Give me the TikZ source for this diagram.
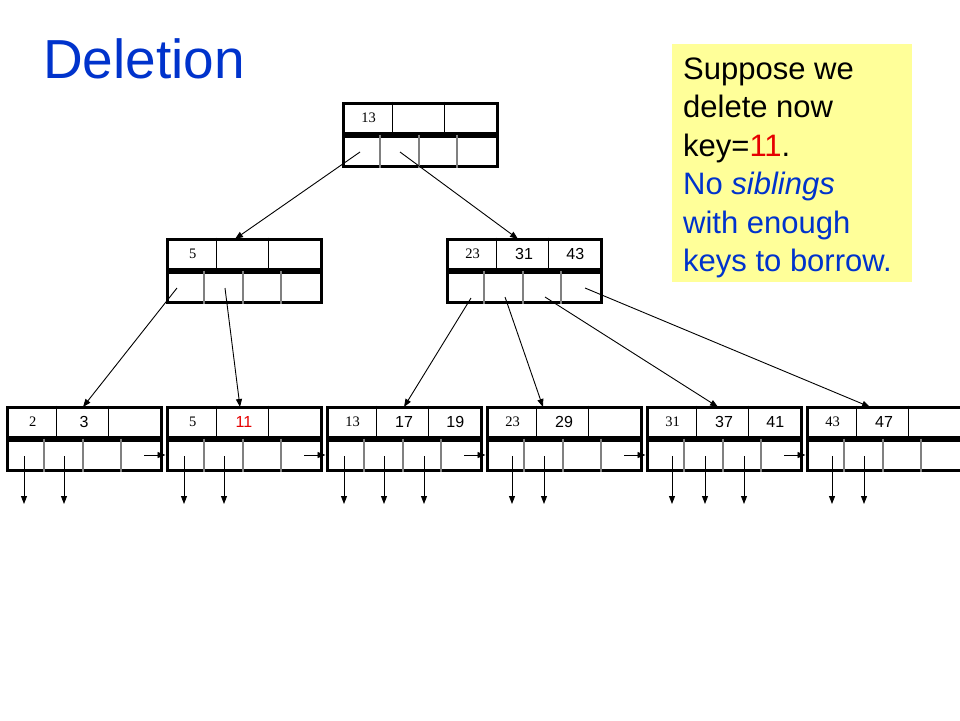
\documentclass[tikz,border=0pt]{standalone}
\usepackage{fontspec}
\setmainfont{Liberation Sans}
\newfontfamily\arialf{Liberation Sans}
\newfontfamily\tmsf{Liberation Serif}
\usetikzlibrary{arrows.meta}
\definecolor{titleblue}{RGB}{0,51,204}
\definecolor{noteyellow}{RGB}{255,255,153}
\definecolor{keyred}{RGB}{230,0,0}
\definecolor{divgray}{RGB}{128,128,128}
\tikzset{
  keyrow/.style={draw=black,line width=3pt,minimum width=154pt,minimum height=30pt,inner sep=0pt,fill=white},
  ptrrow/.style={draw=black,line width=3pt,minimum width=154pt,minimum height=30pt,inner sep=0pt,fill=white},
  kdiv/.style={draw=black,line width=0.9pt},
  pdiv/.style={draw=divgray,line width=2pt},
  kfirst/.style={font=\tmsf\fontsize{14.5}{14.5}\selectfont,inner sep=0pt},
  kother/.style={font=\arialf\fontsize{16}{16}\selectfont,inner sep=0pt},
  ptr/.style={draw=black,line width=0.9pt,-{Triangle[length=8pt,width=6pt]}},
  notetext/.style={font=\arialf\fontsize{31}{31}\selectfont,anchor=base west,inner sep=0pt}
}
% #1 name, #2 left x, #3 top y, #4 key1, #5 key2, #6 key3, #7 colour of key2
\newcommand\btnode[7]{%
  \node[keyrow] (#1) at (#2+77,#3+15) {};
  \node[ptrrow] (#1p) at (#2+77,#3+48) {};
  \draw[kdiv] ([xshift=51.33pt]#1.north west) -- ([xshift=51.33pt]#1.south west);
  \draw[kdiv] ([xshift=102.67pt]#1.north west) -- ([xshift=102.67pt]#1.south west);
  \draw[pdiv] ([xshift=38.5pt]#1p.north west) -- ([xshift=38.5pt]#1p.south west);
  \draw[pdiv] ([xshift=77pt]#1p.north west) -- ([xshift=77pt]#1p.south west);
  \draw[pdiv] ([xshift=115.5pt]#1p.north west) -- ([xshift=115.5pt]#1p.south west);
  \node[kfirst] (#1a) at (#2+25.67,#3+15) {#4};
  \node[kother,text=#7] (#1b) at (#2+77,#3+15) {#5};
  \node[kother] (#1c) at (#2+128.33,#3+15) {#6};
}
\begin{document}
\begin{tikzpicture}[x=1pt,y=-1pt]
\useasboundingbox (0,0) rectangle (960,720);
\fill[white] (0,0) rectangle (960,720);

% title
\node[font=\arialf\fontsize{55}{55}\selectfont,text=titleblue,anchor=base west,inner sep=0pt] (title) at (43,78) {Deletion};

% note box
\node[fill=noteyellow,minimum width=240pt,minimum height=238pt,inner sep=0pt,anchor=north west] (note) at (672,44) {};
\node[notetext] (t1) at (683,79) {Suppose we};
\node[notetext] (t2) at (683,117.5) {delete now};
\node[notetext] (t3) at (683,156) {key=\textcolor{keyred}{11}.};
\node[notetext,text=titleblue] (t4) at (683,194.5) {No \textit{siblings}};
\node[notetext,text=titleblue] (t5) at (683,233) {with enough};
\node[notetext,text=titleblue] (t6) at (683,271.5) {keys to borrow.};

% nodes
\btnode{root}{343}{103}{13}{}{}{black}
\btnode{il}{167}{239}{5}{}{}{black}
\btnode{ir}{447}{239}{23}{31}{43}{black}
\btnode{lf1}{7}{407}{2}{3}{}{black}
\btnode{lf2}{167}{407}{5}{11}{}{keyred}
\btnode{lf3}{327}{407}{13}{17}{19}{black}
\btnode{lf4}{487}{407}{23}{29}{}{black}
\btnode{lf5}{647}{407}{31}{37}{41}{black}
\btnode{lf6}{807}{407}{43}{47}{}{black}

% tree pointers
\coordinate (r0) at (360,152); \coordinate (r0e) at (235,239);
\coordinate (r1) at (400,152); \coordinate (r1e) at (518,239);
\coordinate (il0) at (177,288); \coordinate (il0e) at (83,407);
\coordinate (il1) at (225,288); \coordinate (il1e) at (240,407);
\coordinate (ir0) at (471,298); \coordinate (ir0e) at (404,407);
\coordinate (ir1) at (505,297); \coordinate (ir1e) at (543,407);
\coordinate (ir2) at (545,297); \coordinate (ir2e) at (718,407);
\coordinate (ir3) at (585,288); \coordinate (ir3e) at (870,407);
\draw[ptr] (r0) -- (r0e);
\draw[ptr] (r1) -- (r1e);
\draw[ptr] (il0) -- (il0e);
\draw[ptr] (il1) -- (il1e);
\draw[ptr] (ir0) -- (ir0e);
\draw[ptr] (ir1) -- (ir1e);
\draw[ptr] (ir2) -- (ir2e);
\draw[ptr] (ir3) -- (ir3e);

% leaf chain
\coordinate (n1) at (144,455); \draw[ptr] (n1) -- (lf2p.west);
\coordinate (n2) at (304,455); \draw[ptr] (n2) -- (lf3p.west);
\coordinate (n3) at (464,455); \draw[ptr] (n3) -- (lf4p.west);
\coordinate (n4) at (624,455); \draw[ptr] (n4) -- (lf5p.west);
\coordinate (n5) at (784,455); \draw[ptr] (n5) -- (lf6p.west);

% record pointers
\foreach \i/\x in {1/24,2/64,3/184,4/224,5/344,6/384,7/424,8/512,9/544,10/672,11/705,12/744,13/832,14/864}{
  \coordinate (ds\i) at (\x,456);
  \coordinate (de\i) at (\x,504);
  \draw[ptr] (ds\i) -- (de\i);
}
\end{tikzpicture}
\end{document}
